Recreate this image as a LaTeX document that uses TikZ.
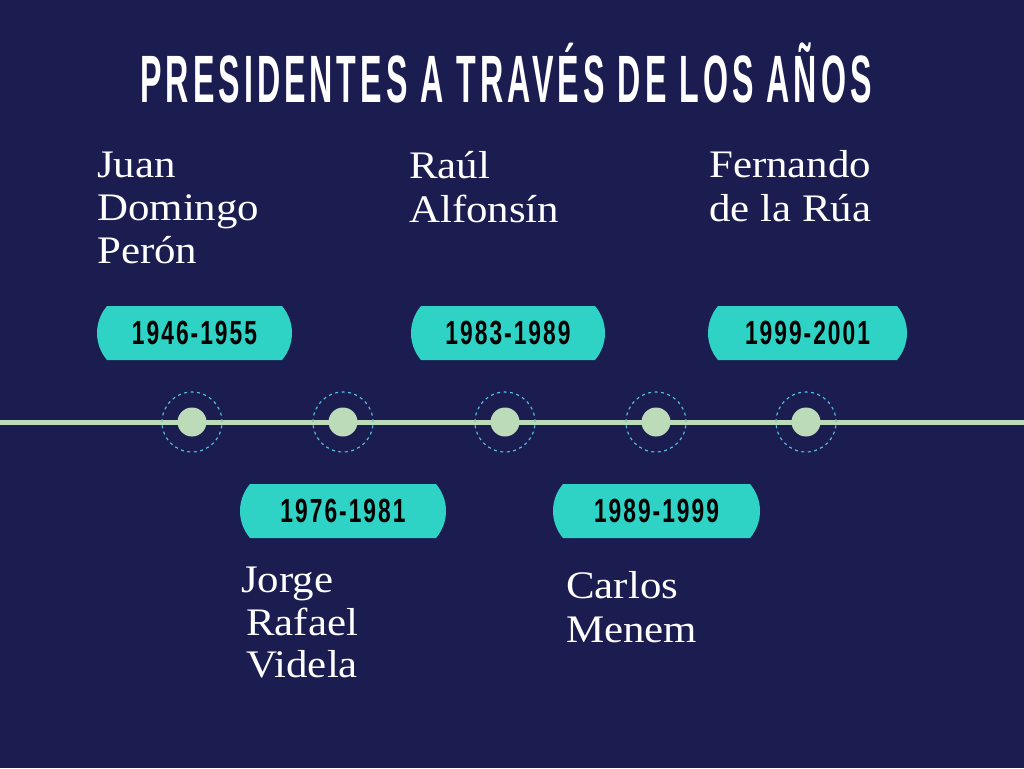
\documentclass[tikz,border=0pt]{standalone}
\usepackage{fontspec}
\setmainfont{Liberation Serif}
\newfontfamily\namefont{Liberation Serif}[FakeStretch=1.1]
\newfontfamily\titlefont{Liberation Sans}[FakeStretch=0.48,LetterSpace=6]
\newfontfamily\yearfont{Liberation Sans}[FakeStretch=0.68,LetterSpace=6]
\definecolor{bgc}{HTML}{1B1D51}
\definecolor{pillc}{HTML}{2FD3C6}
\definecolor{linec}{HTML}{BCDBB9}
\definecolor{ringc}{HTML}{55C4E4}
% #1 left x, #2 right x, #3 top y, #4 bottom y
\newcommand{\pillshape}[4]{%
  \fill[pillc] ({#1+10},#3) -- ({#2-10},#3)
    .. controls ({#2-3.6},{#3+7.5}) and (#2,{(#3+#4)/2-9.9}) .. (#2,{(#3+#4)/2})
    .. controls (#2,{(#3+#4)/2+9.9}) and ({#2-3.6},{#4-7.5}) .. ({#2-10},#4)
    -- ({#1+10},#4)
    .. controls ({#1+3.6},{#4-7.5}) and (#1,{(#3+#4)/2+9.9}) .. (#1,{(#3+#4)/2})
    .. controls (#1,{(#3+#4)/2-9.9}) and ({#1+3.6},{#3+7.5}) .. ({#1+10},#3)
    -- cycle;}
\begin{document}
\begin{tikzpicture}[x=1pt,y=-1pt,
  namestyle/.style={anchor=base west, inner sep=0pt, text=white,
    font=\namefont\fontsize{39}{43}\selectfont},
  yearstyle/.style={inner sep=0pt, text=black,
    font=\yearfont\bfseries\fontsize{33.5}{36}\selectfont},
  titlestyle/.style={inner sep=0pt, text=white,
    font=\titlefont\bfseries\fontsize{67}{70}\selectfont},
  dotstyle/.style={circle, fill=linec, inner sep=0pt, minimum size=29pt},
  ringstyle/.style={circle, draw=ringc, line width=1.1pt,
    dash pattern=on 3pt off 3.5pt, inner sep=0pt, minimum size=60pt}]
\fill[bgc] (0,0) rectangle (1024,768);
\useasboundingbox (0,0) rectangle (1024,768);

% title
\node[titlestyle] (title) at (506,73) {PRESIDENTES A TRAVÉS DE LOS AÑOS};

% timeline
\coordinate (L) at (0,422);
\coordinate (R) at (1024,422);
\draw[linec, line width=5pt] (L) -- (R);
\foreach \x/\n in {192/1,343/2,505/3,656/4,806/5}{
  \node[ringstyle] (ring\n) at (\x,422) {};
  \node[dotstyle] (dot\n) at (\x,422) {};
}

% pills
\pillshape{97}{292}{306}{360}
\pillshape{411}{605}{306}{360}
\pillshape{708}{907}{306}{360}
\pillshape{240}{446}{484}{538}
\pillshape{553}{760}{484}{538}
\node[yearstyle] (y1) at (194.5,333) {1946-1955};
\node[yearstyle] (y3) at (508,333) {1983-1989};
\node[yearstyle] (y5) at (807.5,333) {1999-2001};
\node[yearstyle] (y2) at (343,511) {1976-1981};
\node[yearstyle] (y4) at (656.5,511) {1989-1999};

% names
\node[namestyle] (n1a) at (97,177) {Juan};
\node[namestyle] (n1b) at (97,220) {Domingo};
\node[namestyle] (n1c) at (97,263) {Perón};
\node[namestyle] (n3a) at (409,178) {Raúl};
\node[namestyle] (n3b) at (409,222) {Alfonsín};
\node[namestyle] (n5a) at (709,177) {Fernando};
\node[namestyle] (n5b) at (709,221) {de la Rúa};
\node[namestyle] (n2a) at (241,592) {Jorge};
\node[namestyle] (n2b) at (246,635) {Rafael};
\node[namestyle] (n2c) at (246,677) {Videla};
\node[namestyle] (n4a) at (566,598) {Carlos};
\node[namestyle] (n4b) at (566,642) {Menem};
\end{tikzpicture}
\end{document}
